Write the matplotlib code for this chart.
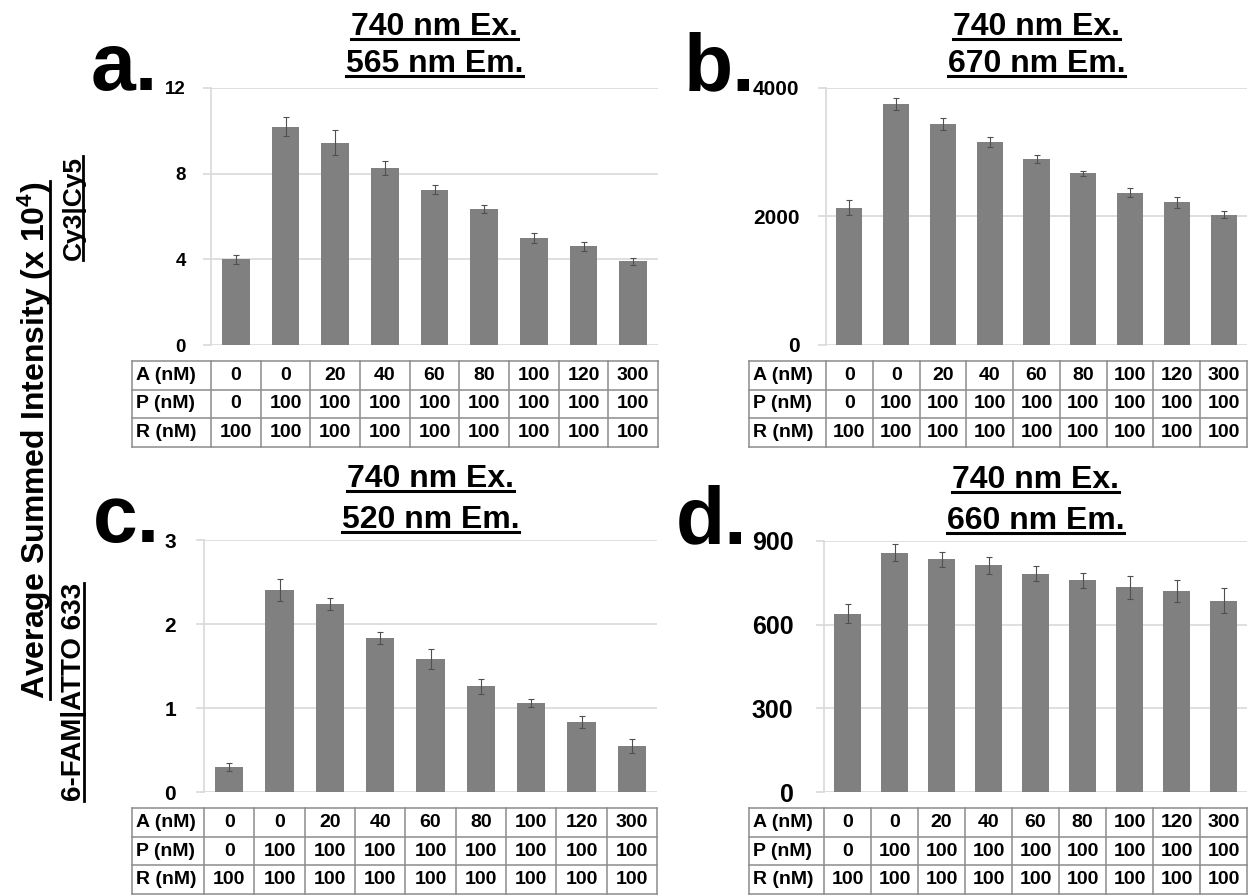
import matplotlib
matplotlib.use('Agg')
import matplotlib.pyplot as plt
from matplotlib.lines import Line2D

plt.rcParams['font.family'] = ['Liberation Sans', 'DejaVu Sans']
plt.rcParams['mathtext.fontset'] = 'custom'
plt.rcParams['mathtext.rm'] = 'Liberation Sans:bold'
plt.rcParams['mathtext.bf'] = 'Liberation Sans:bold'

W, H = 1250, 896

# concentration table shown under every panel
row_names = ['A (nM)', 'P (nM)', 'R (nM)']
a_conc = ['0', '0', '20', '40', '60', '80', '100', '120', '300']
p_conc = ['0', '100', '100', '100', '100', '100', '100', '100', '100']
r_conc = ['100', '100', '100', '100', '100', '100', '100', '100', '100']

# Cy3|Cy5 pair, 740 nm excitation (x 10^4)
cy_565 = [4.0, 10.2, 9.45, 8.25, 7.25, 6.35, 5.0, 4.6, 3.9]
cy_565_err = [0.2, 0.45, 0.6, 0.33, 0.2, 0.2, 0.25, 0.2, 0.15]
cy_670 = [2140, 3750, 3440, 3160, 2900, 2670, 2370, 2220, 2030]
cy_670_err = [120, 100, 90, 80, 60, 40, 70, 90, 60]

# 6-FAM|ATTO 633 pair, 740 nm excitation
fam_520 = [0.30, 2.40, 2.24, 1.83, 1.58, 1.26, 1.06, 0.83, 0.55]
fam_520_err = [0.05, 0.13, 0.07, 0.07, 0.12, 0.09, 0.05, 0.07, 0.08]
fam_660 = [640, 858, 835, 813, 783, 759, 734, 721, 686]
fam_660_err = [33, 30, 27, 30, 27, 28, 42, 38, 44]

fig = plt.figure(figsize=(W / 100, H / 100), dpi=100)


def px_axes(x0, y0, x1, y1):
    return fig.add_axes([x0 / W, 1 - y1 / H, (x1 - x0) / W, (y1 - y0) / H])


def fx(x):
    return x / W


def fy(y):
    return 1 - y / H


def underline(txt, offset, lw=2.2, vertical=False):
    fig.canvas.draw()
    bb = txt.get_window_extent(fig.canvas.get_renderer())
    if vertical:
        x = bb.x1 + offset
        line = Line2D([x / W, x / W], [bb.y0 / H, bb.y1 / H], transform=fig.transFigure,
                      color='black', lw=lw)
    else:
        y = fy(offset)
        line = Line2D([bb.x0 / W, bb.x1 / W], [y, y], transform=fig.transFigure,
                      color='black', lw=lw)
    fig.add_artist(line)


def draw_panel(plot_box, table_left, table_y, values, errors, ticks, tick_size, tick_pad,
               letter, letter_x, em_label, title_base):
    x0, y0, x1, y1 = plot_box
    ax = px_axes(x0, y0, x1, y1)
    xs = list(range(len(values)))
    ax.bar(xs, values, width=0.56, color='#808080', zorder=3)
    ax.errorbar(xs, values, yerr=errors, fmt='none', ecolor='#505050',
                elinewidth=0.8, capsize=2, capthick=0.8, zorder=4)
    ax.set_xlim(-0.5, 8.5)
    ax.set_ylim(0, ticks[-1])
    ax.set_yticks(ticks)
    ax.yaxis.grid(True, color='#d9d9d9', lw=1.2)
    ax.set_axisbelow(True)
    for side in ['top', 'right', 'bottom']:
        ax.spines[side].set_visible(False)
    ax.spines['left'].set_color('#d9d9d9')
    ax.spines['left'].set_linewidth(1.2)
    ax.tick_params(axis='y', length=6, width=1.2, color='#d9d9d9', pad=tick_pad,
                   labelsize=tick_size)
    ax.tick_params(axis='x', bottom=False, labelbottom=False)
    for lbl in ax.get_yticklabels():
        lbl.set_fontweight('bold')

    # concentration table
    ty0, ty1 = table_y
    tab = px_axes(table_left, ty0, x1, ty1)
    col_px = (x1 - x0) / 9
    left = -0.5 - (x0 - table_left) / col_px
    tab.set_xlim(left, 8.5)
    tab.set_ylim(0, 3)
    tab.axis('off')
    for yy in range(4):
        tab.plot([left, 8.5], [yy, yy], color='#8c8c8c', lw=1.1, clip_on=False)
    for xx in [left] + [i - 0.5 for i in range(10)]:
        tab.plot([xx, xx], [0, 3], color='#8c8c8c', lw=1.1, clip_on=False)
    for r, (name, row) in enumerate(zip(row_names, [a_conc, p_conc, r_conc])):
        yc = 2.5 - r
        tab.text(left + 0.08, yc, name, ha='left', va='center', fontsize=14,
                 fontweight='bold')
        for i, val in enumerate(row):
            tab.text(i, yc, val, ha='center', va='center', fontsize=14,
                     fontweight='bold')

    # panel letter and two-line title
    fig.text(fx(letter_x), fy(y0 + 2), letter, ha='right', va='baseline',
             fontsize=58, fontweight='bold')
    cx = fx((x0 + x1) / 2)
    t1 = fig.text(cx, fy(y0 - title_base[0]), '740 nm Ex.', ha='center', va='baseline',
                  fontsize=23, fontweight='bold')
    underline(t1, y0 - title_base[0] + 4)
    t2 = fig.text(cx, fy(y0 - title_base[1]), em_label, ha='center', va='baseline',
                  fontsize=23, fontweight='bold')
    underline(t2, y0 - title_base[1] + 4)


draw_panel((211, 88, 658, 345), 132, (361, 447), cy_565, cy_565_err, [0, 4, 8, 12],
           13.5, 12, 'a.', 158, '565 nm Em.', (53, 16))
draw_panel((826, 88, 1247, 345), 749, (361, 447), cy_670, cy_670_err, [0, 2000, 4000],
           15, 13, 'b.', 755, '670 nm Em.', (53, 16))
draw_panel((204, 540, 657, 792), 132, (808, 894), fam_520, fam_520_err, [0, 1, 2, 3],
           15, 14, 'c.', 160, '520 nm Em.', (53, 12))
draw_panel((824, 541, 1247, 792), 749, (808, 894), fam_660, fam_660_err, [0, 300, 600, 900],
           18, 16, 'd.', 747, '660 nm Em.', (53, 12))

# shared y-axis labels
ylab = fig.text(fx(35), fy(440), 'Average Summed Intensity (x 10$\\mathregular{^4}$)',
                rotation=90, ha='center', va='center', fontsize=23, fontweight='bold')
underline(ylab, -4, lw=2, vertical=True)
pair1 = fig.text(fx(74), fy(208), 'Cy3|Cy5', rotation=90, ha='center', va='center',
                 fontsize=19, fontweight='bold')
underline(pair1, -3, lw=2, vertical=True)
pair2 = fig.text(fx(74), fy(692), '6-FAM|ATTO 633', rotation=90, ha='center', va='center',
                 fontsize=20, fontweight='bold')
underline(pair2, -3, lw=2, vertical=True)

fig.savefig('out.png', dpi=100)
